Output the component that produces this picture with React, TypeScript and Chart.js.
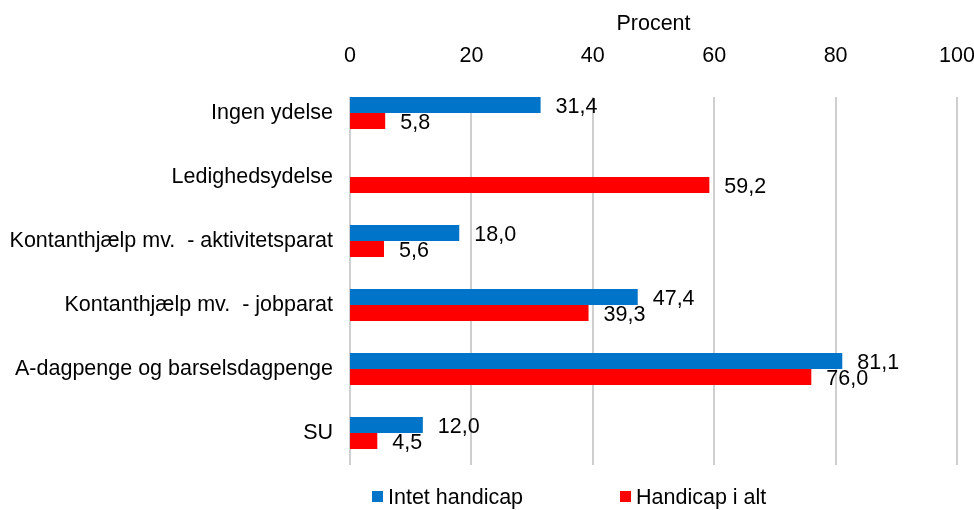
import React, { useEffect, useRef } from "react";
import { Chart, registerables } from "chart.js";

Chart.register(...registerables);

const categories = [
  "Ingen ydelse",
  "Ledighedsydelse",
  "Kontanthjælp mv.  - aktivitetsparat",
  "Kontanthjælp mv.  - jobparat",
  "A-dagpenge og barselsdagpenge",
  "SU",
];
const intetHandicap: (number | null)[] = [31.4, null, 18.0, 47.4, 81.1, 12.0];
const handicapIAlt: (number | null)[] = [5.8, 59.2, 5.6, 39.3, 76.0, 4.5];
const seriesNames = ["Intet handicap", "Handicap i alt"];
const seriesColors = ["#0074C8", "#FF0000"];
const axisTitle = "Procent";
const xMin = 0;
const xMax = 100;
const xStep = 20;

const FAMILY = "'Liberation Sans', Arial, sans-serif";
const FONT_SIZE = 21.5;

const gridPlugin = {
  id: "customGrid",
  beforeDatasetsDraw(chart: any) {
    const { ctx, chartArea, scales } = chart;
    const x = scales.x;
    const y = scales.y;
    const band = y.getPixelForValue(1) - y.getPixelForValue(0);
    const top = chartArea.top + band * 0.25;
    ctx.save();
    ctx.strokeStyle = "#cfcfcf";
    ctx.lineWidth = 2;
    x.ticks.forEach((t: any) => {
      const px = Math.round(x.getPixelForValue(t.value));
      ctx.beginPath();
      ctx.moveTo(px, top);
      ctx.lineTo(px, chartArea.bottom);
      ctx.stroke();
    });
    ctx.restore();
  },
};

const labelPlugin = {
  id: "valueLabels",
  afterDatasetsDraw(chart: any) {
    const { ctx } = chart;
    ctx.save();
    ctx.font = `${FONT_SIZE}px ${FAMILY}`;
    ctx.fillStyle = "#000";
    ctx.textAlign = "left";
    ctx.textBaseline = "middle";
    chart.data.datasets.forEach((ds: any, di: number) => {
      const meta = chart.getDatasetMeta(di);
      meta.data.forEach((el: any, i: number) => {
        const v = ds.data[i];
        if (v === null || v === undefined) return;
        const txt = Number(v).toFixed(1).replace(".", ",");
        ctx.fillText(txt, el.x + 15, el.y + 2);
      });
    });
    ctx.restore();
  },
};

const legendPlugin = {
  id: "customLegend",
  afterDraw(chart: any) {
    const { ctx, chartArea } = chart;
    const starts = [chartArea.left + 22, chartArea.left + 270];
    const yc = chart.height - 13;
    ctx.save();
    ctx.font = `${FONT_SIZE}px ${FAMILY}`;
    ctx.textAlign = "left";
    ctx.textBaseline = "middle";
    chart.data.datasets.forEach((ds: any, i: number) => {
      const x0 = starts[i];
      ctx.fillStyle = ds.backgroundColor;
      ctx.fillRect(x0, yc - 6, 11, 11);
      ctx.fillStyle = "#000";
      ctx.fillText(ds.label, x0 + 16, yc + 1);
    });
    ctx.restore();
  },
};

export default function App() {
  const ref = useRef<HTMLCanvasElement>(null);
  useEffect(() => {
    const font = { family: FAMILY, size: FONT_SIZE };
    const chart = new Chart(ref.current as HTMLCanvasElement, {
      type: "bar",
      data: {
        labels: categories,
        datasets: [
          {
            label: seriesNames[0],
            data: intetHandicap,
            backgroundColor: seriesColors[0],
            categoryPercentage: 0.5,
            barPercentage: 1,
          },
          {
            label: seriesNames[1],
            data: handicapIAlt,
            backgroundColor: seriesColors[1],
            categoryPercentage: 0.5,
            barPercentage: 1,
          },
        ],
      },
      options: {
        indexAxis: "y",
        responsive: false,
        animation: false,
        layout: { padding: { top: 0, right: 17, bottom: 45, left: 0 } },
        plugins: {
          legend: { display: false },
          tooltip: { enabled: false },
        },
        scales: {
          x: {
            position: "top",
            min: xMin,
            max: xMax,
            ticks: { stepSize: xStep, padding: 12, color: "#000", font },
            grid: { display: false, drawTicks: false },
            border: { display: false },
            title: {
              display: true,
              text: axisTitle,
              color: "#000",
              font,
              padding: { top: 11, bottom: 0 },
            },
            afterFit: (s: any) => {
              s.height = 81;
              s.paddingRight = 0;
              s.paddingLeft = 0;
            },
          },
          y: {
            ticks: { padding: 17, color: "#000", font },
            grid: { display: false, drawTicks: false },
            border: { display: false },
            afterFit: (s: any) => {
              s.width = 350;
            },
          },
        },
      } as any,
      plugins: [gridPlugin, labelPlugin, legendPlugin],
    });
    return () => chart.destroy();
  }, []);
  return (
    <canvas
      ref={ref}
      width={974}
      height={510}
      style={{ position: "absolute", left: 0, top: 0, display: "block" }}
    />
  );
}
